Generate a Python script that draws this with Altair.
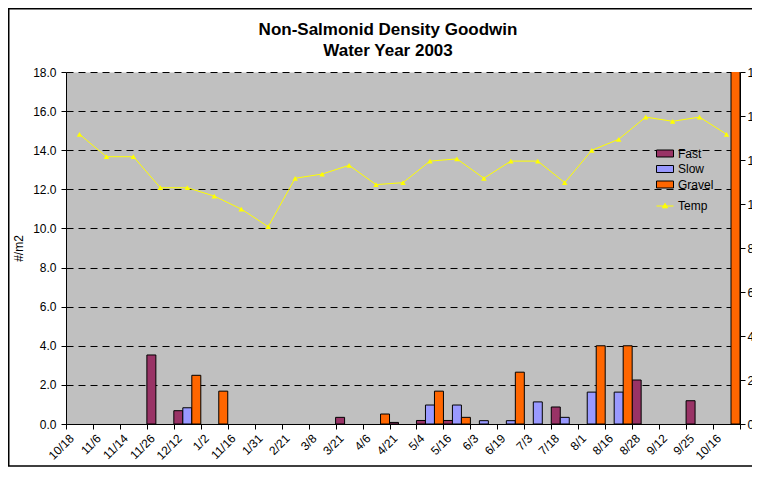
import altair as alt
import pandas as pd

dates = ["10/18", "11/6", "11/14", "11/26", "12/12", "1/2", "11/16", "1/31", "2/21",
         "3/8", "3/21", "4/6", "4/21", "5/4", "5/16", "6/3", "6/19", "7/3", "7/18",
         "8/1", "8/16", "8/28", "9/12", "9/25", "10/16"]
fast = [0, 0, 0, 3.53, 0.68, 0, 0, 0, 0, 0, 0.34, 0, 0.08, 0.18, 0.18, 0, 0, 0, 0.87,
        0, 0, 2.25, 0, 1.19, 0]
slow = [0, 0, 0, 0, 0.83, 0, 0, 0, 0, 0, 0, 0, 0, 0.97, 0.97, 0.17, 0.17, 1.13, 0.34,
        1.63, 1.63, 0, 0, 0, 0]
gravel = [0, 0, 0, 0, 2.49, 1.68, 0, 0, 0, 0, 0, 0.51, 0, 1.68, 0.34, 0, 2.65, 0, 0,
          4.0, 4.0, 0, 0, 0, 20.0]
temp = [13.17, 12.15, 12.15, 10.74, 10.74, 10.36, 9.77, 8.97, 11.17, 11.36, 11.76,
        10.88, 10.97, 11.95, 12.05, 11.17, 11.95, 11.95, 10.97, 12.44, 12.94, 13.95,
        13.76, 13.95, 13.17]
series_names = ["Fast", "Slow", "Gravel"]
series_colors = ["#993366", "#9999FF", "#FF6600"]
left_ticks = [0, 2, 4, 6, 8, 10, 12, 14, 16, 18]
right_ticks = [0, 2, 4, 6, 8, 10, 12, 14, 16]

rows = []
for name, vals in zip(series_names, [fast, slow, gravel]):
    for d, v in zip(dates, vals):
        if v > 0:
            rows.append({"date": d, "series": name, "value": v})
bars_df = pd.DataFrame(rows)
temp_df = pd.DataFrame({"date": dates, "temp": temp, "label": ["Temp"] * len(dates)})

W, H = 674, 352
FONT = "Liberation Sans"

x_enc = alt.X(
    "date:N", sort=dates,
    scale=alt.Scale(paddingInner=0, paddingOuter=0),
    axis=alt.Axis(title=None, labelAngle=-45, labelAlign="right", labelBaseline="middle",
                  tickBand="extent", tickSize=5, tickColor="black", domainColor="black",
                  labelFontSize=12, labelFont=FONT, labelColor="black", labelPadding=7,
                  labelOffset=-8, grid=False, labelOverlap=False),
)

bars = alt.Chart(bars_df).mark_bar(stroke="black", strokeWidth=1, clip=True).encode(
    x=x_enc,
    xOffset=alt.XOffset("series:N", sort=series_names,
                        scale=alt.Scale(domain=series_names, paddingInner=0, paddingOuter=0)),
    y=alt.Y("value:Q", scale=alt.Scale(domain=[0, 18], nice=False),
            axis=alt.Axis(title="#/m2", values=left_ticks, format=".1f", grid=True,
                          gridDash=[7, 5], gridColor="black", gridWidth=1,
                          tickSize=5, tickColor="black", domainColor="black",
                          labelFontSize=12, labelFont=FONT, labelColor="black",
                          labelPadding=5, titleFont=FONT, titleFontSize=12,
                          titleFontWeight="normal", titleColor="black", titlePadding=7)),
    color=alt.Color("series:N", sort=series_names,
                    scale=alt.Scale(domain=series_names, range=series_colors),
                    legend=alt.Legend(title=None, orient="none", legendX=590, legendY=72.5,
                                      symbolType="M-1,-0.41H1V0.41H-1Z", symbolSize=289,
                                      symbolStrokeColor="black", symbolStrokeWidth=1,
                                      labelFont=FONT, labelFontSize=12, labelColor="black",
                                      padding=0, rowPadding=0.5, labelOffset=4)),
)

line = alt.Chart(temp_df).mark_line(
    strokeWidth=1,
    point=alt.OverlayMarkDef(shape="triangle-up", filled=True, size=30),
).encode(
    x=x_enc,
    y=alt.Y("temp:Q", scale=alt.Scale(domain=[0, 16], nice=False),
            axis=alt.Axis(orient="right", title=None, values=right_ticks, format="d",
                          grid=False, tickSize=5, tickColor="black", domainColor="black",
                          labelFontSize=12, labelFont=FONT, labelColor="black",
                          labelPadding=2)),
    color=alt.Color("label:N", scale=alt.Scale(domain=["Temp"], range=["#FFFF00"]),
                    legend=alt.Legend(title=None, orient="none", legendX=590, legendY=125,
                                      symbolType="M-1,0H1M0,-0.32L0.3,0.22L-0.3,0.22Z",
                                      symbolSize=289, symbolStrokeColor="#FFFF00",
                                      symbolFillColor="#FFFF00", symbolStrokeWidth=1,
                                      labelFont=FONT, labelFontSize=12, labelColor="black",
                                      padding=0, labelOffset=4)),
)

border_df = pd.DataFrame({"k": [0]})
border = alt.Chart(border_df).mark_rect(filled=False, stroke="black", strokeWidth=1.5).encode(
    x=alt.value(-57.25), x2=alt.value(W + 40), y=alt.value(-63.25), y2=alt.value(394)
)

chart = alt.layer(border, bars, line).resolve_scale(
    y="independent", color="independent"
).properties(
    width=W, height=H,
    title=alt.TitleParams(["Non-Salmonid Density Goodwin", "Water Year 2003"],
                          fontSize=17, font=FONT, fontWeight="bold", color="black",
                          anchor="middle", dx=-15, dy=64, offset=12, lineHeight=21),
    autosize=alt.AutoSizeParams(type="none"),
    padding={"left": 58, "top": 64, "right": 12, "bottom": 44},
    background="white",
).configure_view(fill="#C0C0C0", stroke="transparent")

chart.save("out.html", embed_options={"renderer": "svg", "actions": False})
